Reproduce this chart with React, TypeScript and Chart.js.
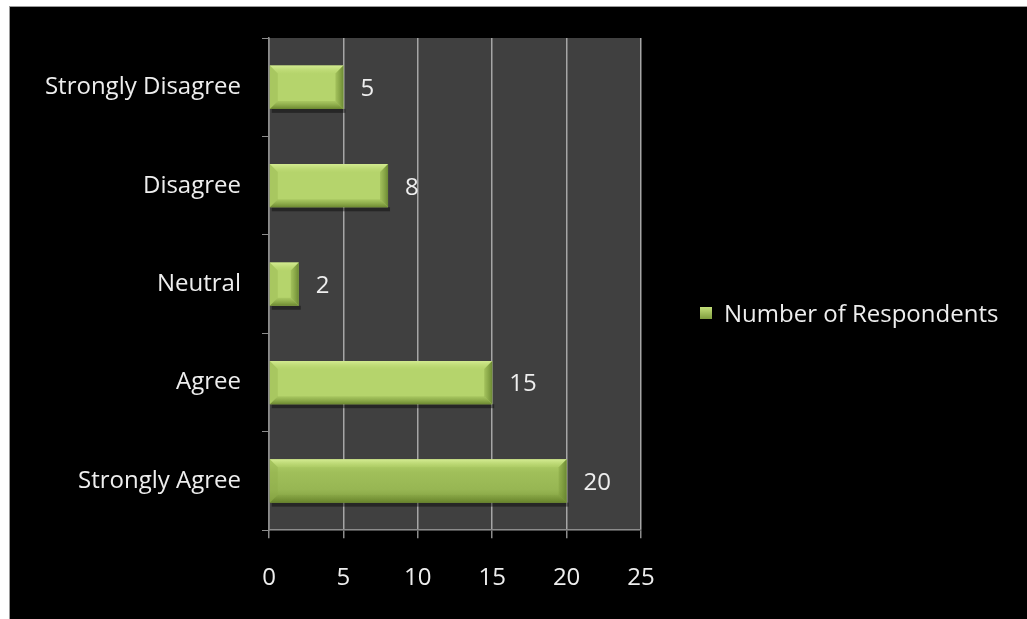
import React, { useEffect, useRef } from "react";
import { Chart, registerables } from "chart.js";

Chart.register(...registerables);

const categories = ["Strongly Disagree", "Disagree", "Neutral", "Agree", "Strongly Agree"];
const respondents = [5, 8, 2, 15, 20];
const seriesName = "Number of Respondents";
const xMin = 0;
const xMax = 25;
const xStep = 5;

const FONT = "'Open Sans', 'Noto Sans', sans-serif";
const FONT_SIZE = 24;
const TEXT = "#eeeeee";

const plotBg = {
  id: "plotBg",
  beforeDraw(chart: any) {
    const { ctx, chartArea: a } = chart;
    ctx.save();
    ctx.fillStyle = "#404040";
    ctx.fillRect(a.left, a.top, a.right - a.left, a.bottom - a.top);
    ctx.restore();
  },
};

const bevelBars = {
  id: "bevelBars",
  beforeDatasetsDraw(chart: any) {
    const { ctx } = chart;
    const meta = chart.getDatasetMeta(0);
    meta.data.forEach((el: any) => {
      const top = el.y - el.height / 2;
      const bottom = el.y + el.height / 2;
      const g = ctx.createLinearGradient(0, top, 0, bottom);
      g.addColorStop(0, "#b5d46c");
      g.addColorStop(0.3, "#a0bf5a");
      g.addColorStop(0.7, "#97b653");
      g.addColorStop(1, "#7f9d3e");
      el.options.backgroundColor = g;
      ctx.save();
      ctx.fillStyle = "rgba(0,0,0,0.4)";
      ctx.fillRect(el.base + 2, bottom, el.x - el.base, 4);
      ctx.restore();
    });
  },
  afterDatasetsDraw(chart: any) {
    const { ctx } = chart;
    const meta = chart.getDatasetMeta(0);
    meta.data.forEach((el: any) => {
      const t = el.y - el.height / 2;
      const b = el.y + el.height / 2;
      const l = el.base;
      const r = el.x;
      const d = Math.min(8, (r - l) / 2);
      ctx.save();
      const gt = ctx.createLinearGradient(0, t, 0, t + d);
      gt.addColorStop(0, "rgba(215,238,150,0.9)");
      gt.addColorStop(1, "rgba(185,215,110,0.3)");
      ctx.fillStyle = gt;
      ctx.beginPath();
      ctx.moveTo(l, t); ctx.lineTo(r, t); ctx.lineTo(r - d, t + d); ctx.lineTo(l + d, t + d); ctx.closePath();
      ctx.fill();
      const gb = ctx.createLinearGradient(0, b - d, 0, b);
      gb.addColorStop(0, "rgba(120,150,55,0.2)");
      gb.addColorStop(1, "rgba(100,128,42,0.9)");
      ctx.fillStyle = gb;
      ctx.beginPath();
      ctx.moveTo(l, b); ctx.lineTo(r, b); ctx.lineTo(r - d, b - d); ctx.lineTo(l + d, b - d); ctx.closePath();
      ctx.fill();
      const gr = ctx.createLinearGradient(r - d, 0, r, 0);
      gr.addColorStop(0, "rgba(120,150,55,0.3)");
      gr.addColorStop(1, "rgba(100,130,45,0.9)");
      ctx.fillStyle = gr;
      ctx.beginPath();
      ctx.moveTo(r, t); ctx.lineTo(r, b); ctx.lineTo(r - d, b - d); ctx.lineTo(r - d, t + d); ctx.closePath();
      ctx.fill();
      ctx.fillStyle = "rgba(140,170,70,0.3)";
      ctx.beginPath();
      ctx.moveTo(l, t); ctx.lineTo(l, b); ctx.lineTo(l + d, b - d); ctx.lineTo(l + d, t + d); ctx.closePath();
      ctx.fill();
      ctx.restore();
    });
    ctx.save();
    ctx.fillStyle = TEXT;
    ctx.font = `${FONT_SIZE}px ${FONT}`;
    ctx.textAlign = "left";
    ctx.textBaseline = "middle";
    meta.data.forEach((el: any, i: number) => {
      ctx.fillText(String(respondents[i]), el.x + 17, el.y + 2);
    });
    ctx.restore();
  },
};

const sideLegend = {
  id: "sideLegend",
  afterDraw(chart: any) {
    const { ctx, chartArea: a } = chart;
    const x = a.right + 59;
    const y = chart.height / 2;
    ctx.save();
    const g = ctx.createLinearGradient(0, y - 6, 0, y + 6);
    g.addColorStop(0, "#c4df7a");
    g.addColorStop(1, "#7f9d3e");
    ctx.fillStyle = g;
    ctx.fillRect(x, y - 6, 12, 12);
    ctx.fillStyle = TEXT;
    ctx.font = `${FONT_SIZE}px ${FONT}`;
    ctx.textAlign = "left";
    ctx.textBaseline = "middle";
    ctx.fillText(seriesName, x + 24, y + 2);
    ctx.restore();
  },
};

export default function App() {
  const ref = useRef<HTMLCanvasElement | null>(null);
  useEffect(() => {
    if (!ref.current) return;
    const chart = new Chart(ref.current, {
      type: "bar",
      data: {
        labels: categories,
        datasets: [
          {
            label: seriesName,
            data: respondents,
            backgroundColor: "#9bbb59",
            borderWidth: 0,
            categoryPercentage: 0.88,
            barPercentage: 0.5,
          },
        ],
      },
      options: {
        indexAxis: "y",
        animation: false,
        responsive: true,
        maintainAspectRatio: false,
        layout: { padding: { top: 31, bottom: 0, left: 0, right: 386 } },
        plugins: {
          tooltip: { enabled: false },
          legend: { display: false },
        },
        scales: {
          x: {
            min: xMin,
            max: xMax,
            ticks: { stepSize: xStep, color: TEXT, font: { family: FONT, size: FONT_SIZE }, padding: 26 },
            grid: { color: "#a6a6a6", lineWidth: 1.5, tickLength: 8, tickColor: "#8c8c8c" },
            border: { color: "#8c8c8c", width: 1.5 },
          },
          y: {
            afterFit: (s: any) => {
              s.width = 259;
              s.paddingTop = 0;
              s.paddingBottom = 0;
            },
            ticks: { color: TEXT, font: { family: FONT, size: FONT_SIZE }, padding: 21 },
            grid: { drawOnChartArea: false, tickLength: 7, color: "#8c8c8c", offset: true },
            border: { color: "#8c8c8c", width: 1.5 },
          },
        },
      },
      plugins: [plotBg, bevelBars, sideLegend],
    });
    return () => chart.destroy();
  }, []);

  return (
    <div style={{ position: "fixed", inset: 0, background: "#ffffff" }}>
      <div
        style={{
          position: "absolute",
          left: 9,
          top: 6,
          right: 0,
          bottom: 0,
          background: "#000000",
          borderLeft: "1px solid #9a9a9a",
          borderTop: "1px solid #9a9a9a",
        }}
      >
        <canvas ref={ref} style={{ display: "block", width: "100%", height: "100%" }} />
      </div>
    </div>
  );
}
